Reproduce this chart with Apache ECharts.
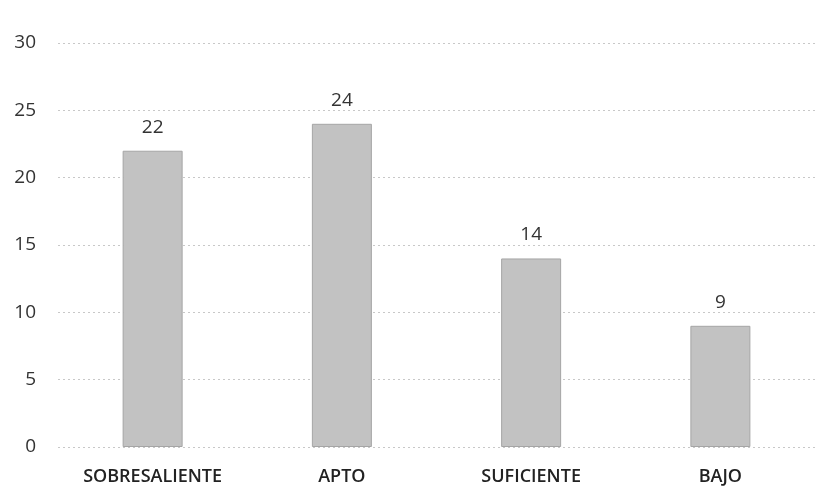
<!DOCTYPE html>
<html><head><meta charset="utf-8">
<script src="https://cdn.jsdelivr.net/npm/echarts@6/dist/echarts.min.js"></script>
<style>html,body{margin:0;padding:0;background:#fff}#c{width:830px;height:491px}</style>
</head><body><div id="c"></div>
<script>
const categories = ["SOBRESALIENTE", "APTO", "SUFICIENTE", "BAJO"];
const values = [22, 24, 14, 9];
const yTicks = [0, 5, 10, 15, 20, 25, 30];

const chart = echarts.init(document.getElementById('c'));
chart.setOption({
  animation: false,
  backgroundColor: '#fff',
  grid: { left: 58, right: 15, top: 43, bottom: 44, containLabel: false },
  xAxis: {
    type: 'category',
    data: categories,
    axisLine: { show: false },
    axisTick: { show: false },
    axisLabel: { interval: 0, color: '#222', fontFamily: 'Open Sans', fontSize: 18, fontWeight: 600, margin: 21 }
  },
  yAxis: {
    type: 'value',
    min: yTicks[0], max: yTicks[yTicks.length - 1], interval: 5,
    axisLine: { show: false },
    axisTick: { show: false },
    axisLabel: { color: '#333', fontFamily: 'Open Sans', fontSize: 19, margin: 22, align: 'right' },
    splitLine: { lineStyle: { color: '#c8c8c8', type: [2, 3], width: 1 } }
  },
  series: [{
    type: 'bar',
    data: values,
    barWidth: 60,
    itemStyle: { color: '#c2c2c2', borderColor: '#a5a5a5', borderWidth: 1 },
    label: { show: true, position: 'top', color: '#333', fontFamily: 'Open Sans', fontSize: 19, distance: 14 }
  }]
});
</script></body></html>
